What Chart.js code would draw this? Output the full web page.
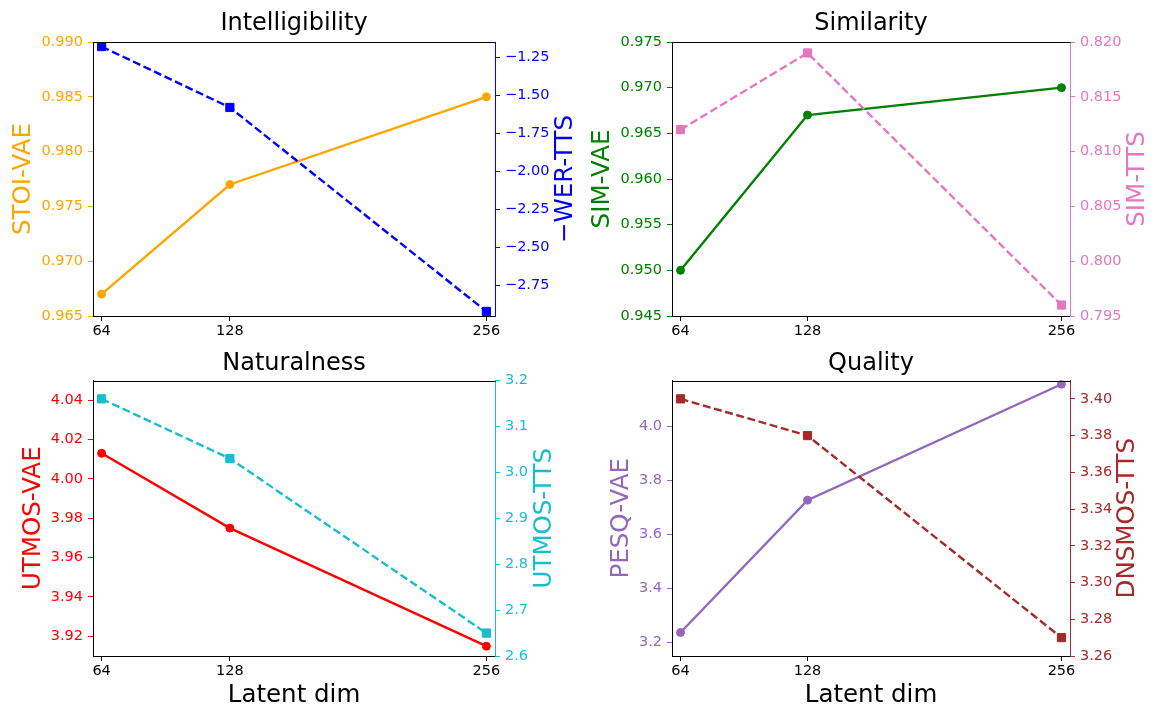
<!DOCTYPE html>
<html>
<head>
<meta charset="utf-8">
<script src="https://cdn.jsdelivr.net/npm/chart.js@4.4.1/dist/chart.umd.min.js"></script>
<style>
  html, body { margin: 0; padding: 0; background: #fff; }
  #wrap { position: relative; width: 1166px; height: 724px; }
  canvas { position: absolute; }
</style>
</head>
<body>
<div id="wrap">
  <canvas id="c1" width="583" height="340" style="left:0;top:0"></canvas>
  <canvas id="c2" width="583" height="340" style="left:583px;top:0"></canvas>
  <canvas id="c3" width="583" height="384" style="left:0;top:340px"></canvas>
  <canvas id="c4" width="583" height="384" style="left:583px;top:340px"></canvas>
</div>
<script>
// data
const LATENT_DIMS = [64, 128, 256];

const STOI_VAE = [0.967, 0.977, 0.985];
const NEG_WER_TTS = [-1.18, -1.58, -2.92];
const SIM_VAE = [0.950, 0.967, 0.970];
const SIM_TTS = [0.812, 0.819, 0.796];
const UTMOS_VAE = [4.013, 3.975, 3.915];
const UTMOS_TTS = [3.16, 3.03, 2.65];
const PESQ_VAE = [3.237, 3.727, 4.156];
const DNSMOS_TTS = [3.40, 3.38, 3.27];

// tick labels
const X_TICKS = [64, 128, 256];
const STOI_TICKS = [0.965, 0.970, 0.975, 0.980, 0.985, 0.990];
const WER_TICKS = [-2.75, -2.50, -2.25, -2.00, -1.75, -1.50, -1.25];
const SIM_VAE_TICKS = [0.945, 0.950, 0.955, 0.960, 0.965, 0.970, 0.975];
const SIM_TTS_TICKS = [0.795, 0.800, 0.805, 0.810, 0.815, 0.820];
const UTMOS_VAE_TICKS = [3.92, 3.94, 3.96, 3.98, 4.00, 4.02, 4.04];
const UTMOS_TTS_TICKS = [2.6, 2.7, 2.8, 2.9, 3.0, 3.1, 3.2];
const PESQ_TICKS = [3.2, 3.4, 3.6, 3.8, 4.0];
const DNSMOS_TICKS = [3.26, 3.28, 3.30, 3.32, 3.34, 3.36, 3.38, 3.40];

const FONT = 'DejaVu Sans';
Chart.defaults.font.family = FONT;

const fmt = (v, d) => v.toFixed(d).replace('-', '\u2212');
const pts = (vals) => LATENT_DIMS.map((x, i) => ({ x: x, y: vals[i] }));

// top spine + right-hand label (matplotlib reads it bottom-to-top)
const frameAndRightLabel = {
  id: 'frameAndRightLabel',
  afterDraw(chart, args, opts) {
    const { ctx, chartArea } = chart;
    ctx.save();
    ctx.strokeStyle = '#000';
    ctx.lineWidth = 1;
    const y = Math.round(chartArea.top) + 0.5;
    ctx.beginPath();
    ctx.moveTo(chartArea.left, y);
    ctx.lineTo(chartArea.right + 0.5, y);
    ctx.stroke();
    ctx.translate(opts.x, (chartArea.top + chartArea.bottom) / 2);
    ctx.rotate(-Math.PI / 2);
    ctx.font = '24.5px "' + FONT + '"';
    ctx.fillStyle = opts.color;
    ctx.textAlign = 'center';
    ctx.textBaseline = 'middle';
    ctx.fillText(opts.text, 0, 0);
    ctx.restore();
  }
};

function makePanel(id, p) {
  const ctx = document.getElementById(id).getContext('2d');
  return new Chart(ctx, {
    type: 'line',
    data: {
      datasets: [{
        label: p.leftLabel,
        data: pts(p.leftData),
        yAxisID: 'yL',
        borderColor: p.leftColor,
        backgroundColor: p.leftColor,
        borderWidth: 2.4,
        pointStyle: 'circle',
        pointRadius: 4,
        pointHoverRadius: 4,
        pointBorderWidth: 1,
        tension: 0,
        order: 2
      }, {
        label: p.rightLabel,
        data: pts(p.rightData),
        yAxisID: 'yR',
        borderColor: p.rightColor,
        backgroundColor: p.rightColor,
        borderWidth: 2.4,
        borderDash: [8, 3.6],
        pointStyle: 'rect',
        pointRadius: 5.8,
        pointHoverRadius: 5.8,
        pointBorderWidth: 1,
        tension: 0,
        order: 1
      }]
    },
    options: {
      responsive: false,
      animation: false,
      devicePixelRatio: 1,
      events: [],
      layout: { padding: 0 },
      plugins: {
        legend: { display: false },
        tooltip: { enabled: false },
        title: {
          display: true,
          text: p.title,
          color: '#000',
          fullSize: false,
          font: { size: 24, weight: 'normal', family: FONT },
          padding: { top: 9.8, bottom: p.titleBottom }
        },
        frameAndRightLabel: { text: p.rightLabel, color: p.rightColor, x: p.rightLabelX }
      },
      scales: {
        x: {
          type: 'linear',
          min: 59.7,
          max: 260.3,
          afterBuildTicks: (s) => { s.ticks = X_TICKS.map(v => ({ value: v })); },
          afterFit: (s) => { s.height = p.xHeight; },
          ticks: { color: '#000', font: { size: 14.5 }, padding: 1.7, autoSkip: false, maxRotation: 0,
                   callback: (v) => String(v) },
          grid: { drawOnChartArea: false, drawTicks: true, tickLength: 5, tickColor: '#000' },
          border: { display: true, color: '#000', width: 1 },
          title: { display: p.xTitle, text: 'Latent dim', color: '#000',
                   font: { size: 24.5 }, padding: { bottom: 13.3 } }
        },
        yL: {
          type: 'linear',
          position: 'left',
          min: p.leftRange[0],
          max: p.leftRange[1],
          afterBuildTicks: (s) => { s.ticks = p.leftTicks.map(v => ({ value: v })); },
          afterFit: (s) => { s.width = p.leftW; },
          ticks: { color: p.leftColor, font: { size: 14.5 }, padding: 5, autoSkip: false,
                   callback: (v) => fmt(v, p.leftDec) },
          grid: { drawOnChartArea: false, drawTicks: true, tickLength: 5, tickColor: p.leftColor },
          border: { display: true, color: '#000', width: 1 },
          title: { display: true, text: p.leftLabel, color: p.leftColor,
                   font: { size: 24.5 }, padding: { top: p.leftLabelPad } }
        },
        yR: {
          type: 'linear',
          position: 'right',
          min: p.rightRange[0],
          max: p.rightRange[1],
          afterBuildTicks: (s) => { s.ticks = p.rightTicks.map(v => ({ value: v })); },
          afterFit: (s) => { s.width = p.rightW; },
          ticks: { color: p.rightColor, font: { size: 14.5 }, padding: 5, autoSkip: false,
                   callback: (v) => fmt(v, p.rightDec) },
          grid: { drawOnChartArea: false, drawTicks: true, tickLength: 5, tickColor: p.rightColor },
          border: { display: true, color: p.rightColor, width: 1 }
        }
      }
    },
    plugins: [frameAndRightLabel]
  });
}

makePanel('c1', {
  title: 'Intelligibility', titleBottom: 3.4, xHeight: 24, xTitle: false,
  leftLabel: 'STOI-VAE', leftColor: '#FFA500', leftData: STOI_VAE, leftTicks: STOI_TICKS,
  leftRange: [0.965, 0.990], leftDec: 3, leftW: 93, leftLabelPad: 9.4,
  rightLabel: '\u2212WER-TTS', rightColor: '#0000FF', rightData: NEG_WER_TTS, rightTicks: WER_TICKS,
  rightRange: [-2.95, -1.15], rightDec: 2, rightW: 88, rightLabelX: 566
});

makePanel('c2', {
  title: 'Similarity', titleBottom: 3.4, xHeight: 24, xTitle: false,
  leftLabel: 'SIM-VAE', leftColor: '#008000', leftData: SIM_VAE, leftTicks: SIM_VAE_TICKS,
  leftRange: [0.945, 0.975], leftDec: 3, leftW: 89, leftLabelPad: 5.3,
  rightLabel: 'SIM-TTS', rightColor: '#E377C2', rightData: SIM_TTS, rightTicks: SIM_TTS_TICKS,
  rightRange: [0.795, 0.820], rightDec: 3, rightW: 96, rightLabelX: 555
});

makePanel('c3', {
  title: 'Naturalness', titleBottom: 1.9, xHeight: 68, xTitle: true,
  leftLabel: 'UTMOS-VAE', leftColor: '#FF0000', leftData: UTMOS_VAE, leftTicks: UTMOS_VAE_TICKS,
  leftRange: [3.91, 4.05], leftDec: 2, leftW: 93, leftLabelPad: 19.4,
  rightLabel: 'UTMOS-TTS', rightColor: '#17BECF', rightData: UTMOS_TTS, rightTicks: UTMOS_TTS_TICKS,
  rightRange: [2.6, 3.2], rightDec: 1, rightW: 88, rightLabelX: 544.5
});

makePanel('c4', {
  title: 'Quality', titleBottom: 1.9, xHeight: 68, xTitle: true,
  leftLabel: 'PESQ-VAE', leftColor: '#9467BD', leftData: PESQ_VAE, leftTicks: PESQ_TICKS,
  leftRange: [3.15, 4.17], leftDec: 1, leftW: 89, leftLabelPad: 23.8,
  rightLabel: 'DNSMOS-TTS', rightColor: '#A52A2A', rightData: DNSMOS_TTS, rightTicks: DNSMOS_TICKS,
  rightRange: [3.26, 3.41], rightDec: 2, rightW: 96, rightLabelX: 545
});
</script>
</body>
</html>
